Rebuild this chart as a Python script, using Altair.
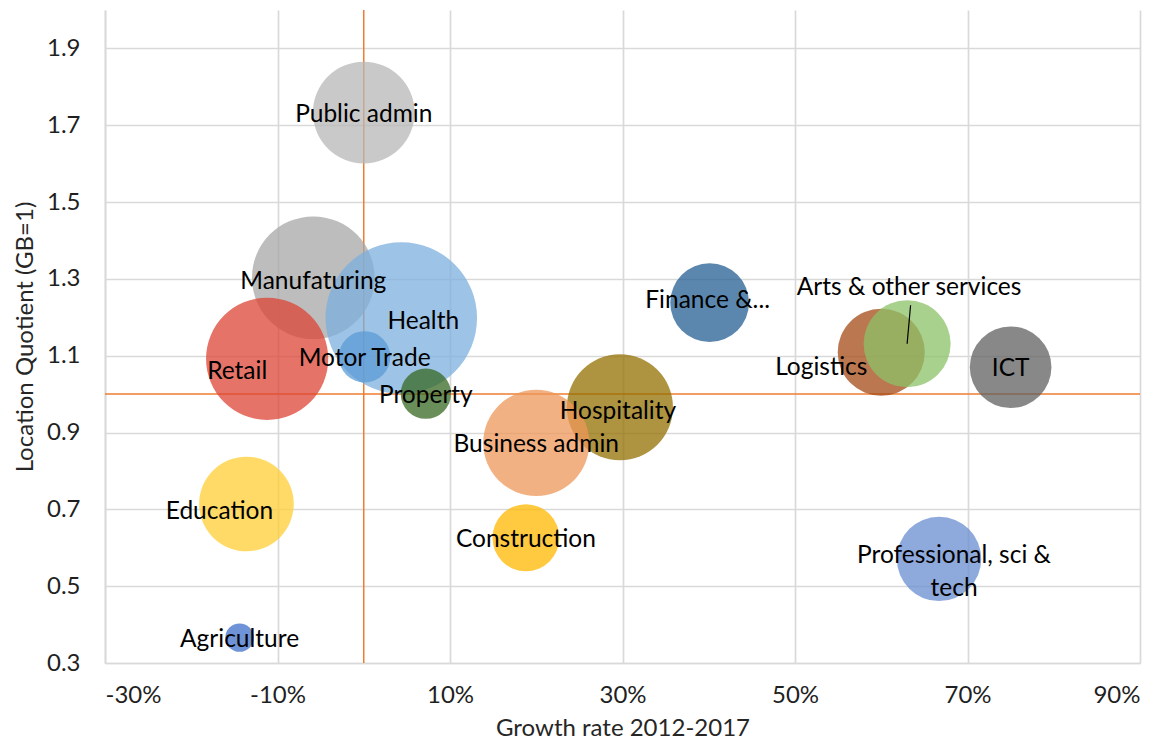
import altair as alt
import pandas as pd

sectors = ["Manufaturing", "Retail", "Public admin", "Health", "Motor Trade", "Property",
           "Education", "Agriculture", "Hospitality", "Business admin", "Construction",
           "Finance &...", "Logistics", "Arts & other services", "Professional, sci & tech", "ICT"]
labels = ["Manufaturing", "Retail", "Public admin", "Health", "Motor Trade", "Property",
          "Education", "Agriculture", "Hospitality", "Business admin", "Construction",
          "Finance &...", "Logistics", "Arts & other services", "Professional, sci &\ntech", "ICT"]
growth = [-0.0585, -0.112, 0.0, 0.0435, 0.001, 0.072, -0.136, -0.144, 0.297, 0.200, 0.188,
          0.401, 0.600, 0.630, 0.667, 0.750]
lq = [1.303, 1.092, 1.733, 1.198, 1.097, 1.001, 0.714, 0.366, 0.966, 0.873, 0.626,
      1.238, 1.109, 1.131, 0.571, 1.070]
employment = [65.5, 65, 45, 100, 11.5, 11, 39, 3.5, 49, 49, 19.5, 27, 33, 33, 31, 29]
colors = ["#A7A7A7", "#DD4436", "#B7B7B7", "#7CAFDD", "#5B9BD5", "#386823",
          "#FFCD33", "#3E6FC9", "#936F00", "#EE975A", "#FFB700",
          "#245F93", "#A44A15", "#8CC268", "#688CCF", "#606060"]

x_ticks = [-0.3, -0.1, 0.1, 0.3, 0.5, 0.7, 0.9]
y_ticks = [0.3, 0.5, 0.7, 0.9, 1.1, 1.3, 1.5, 1.7, 1.9]
x_ref = 0.0
y_ref = 1.0
leader_end = (0.634, 1.2315)

df = pd.DataFrame({
    "sector": sectors, "label": labels, "growth": growth, "lq": lq,
    "employment": employment, "draw": list(range(len(sectors))),
})

FONT = "Lato"
xs = alt.Scale(domain=[-0.3, 0.9], nice=False, zero=False)
ys = alt.Scale(domain=[0.3, 2.0], nice=False, zero=False)

base = alt.Chart(df)

vline = alt.Chart(pd.DataFrame({"v": [x_ref]})).mark_rule(color="#ED7D31", strokeWidth=1.5).encode(
    x=alt.X("v:Q", scale=xs))
hline = alt.Chart(pd.DataFrame({"v": [y_ref]})).mark_rule(color="#ED7D31", strokeWidth=1.5).encode(
    y=alt.Y("v:Q", scale=ys))

bubbles = base.mark_circle(opacity=0.75, strokeWidth=0).encode(
    x=alt.X("growth:Q", scale=xs,
            axis=alt.Axis(values=x_ticks, labelExpr="round(datum.value * 100) + '%'",
                          title="Growth rate 2012-2017", grid=True)),
    y=alt.Y("lq:Q", scale=ys,
            axis=alt.Axis(values=y_ticks, format=".1f", title="Location Quotient (GB=1)",
                          grid=True)),
    size=alt.Size("employment:Q", scale=alt.Scale(domain=[0, 100], range=[0, 22966]), legend=None),
    color=alt.Color("sector:N", scale=alt.Scale(domain=sectors, range=colors), legend=None),
    order=alt.Order("draw:Q"),
)

offsets = {
    "Health": (22, 2), "Retail": (-30, 11), "Education": (-27, 6), "Logistics": (-60, 14),
    "Arts & other services": (2, -58), "Professional, sci & tech": (15, -5),
    "Hospitality": (-2, 3), "Finance &...": (-2, -4), "Manufaturing": (0, 2),
}

text_layers = []
for s in sectors:
    dx, dy = offsets.get(s, (0, 0))
    t = base.transform_filter(alt.datum.sector == s).mark_text(
        font=FONT, fontSize=24.5, color="#000000", dx=dx, dy=dy + 2, baseline="middle",
        align="center", lineBreak="\n", lineHeight=33,
    ).encode(x=alt.X("growth:Q", scale=xs), y=alt.Y("lq:Q", scale=ys), text="label:N")
    text_layers.append(t)

leader = base.transform_filter(alt.datum.sector == "Arts & other services").mark_rule(
    color="#000000", strokeWidth=1.2).encode(
    x=alt.X("growth:Q", scale=xs), y=alt.Y("lq:Q", scale=ys),
    x2=alt.datum(leader_end[0]), y2=alt.datum(leader_end[1]))

chart = alt.layer(vline, hline, bubbles, leader, *text_layers).properties(
    width=1035, height=653,
    autosize=alt.AutoSizeParams(type="none"),
    padding={"left": 97, "top": 2, "right": 20, "bottom": 78},
).configure_view(stroke=None).configure_axis(
    labelFont=FONT, titleFont=FONT, labelFontSize=24, titleFontSize=24,
    labelColor="#1f1f1f", titleColor="#262626", titleFontWeight="normal",
    gridColor="#D9D9D9", gridWidth=1.7, domainColor="#D9D9D9", domainWidth=1.7,
    ticks=False,
).configure_axisX(labelPadding=20, titlePadding=9).configure_axisY(
    labelPadding=25, titlePadding=9)

chart.save("out.html", embed_options={"renderer": "svg", "actions": False})
